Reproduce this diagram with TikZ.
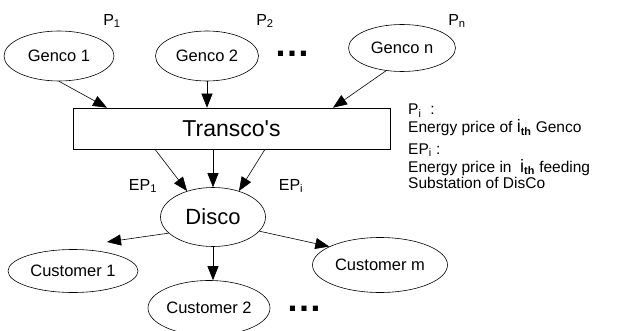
\documentclass[tikz,border=0pt]{standalone}
\usepackage{fontspec}
\setmainfont{Liberation Sans}
\usetikzlibrary{arrows.meta,shapes.geometric,calc}
\begin{document}
\begin{tikzpicture}[x=1pt,y=-1pt,
  oval/.style={draw, ellipse, line width=0.6pt, inner sep=0pt, font=\fontsize{16.5}{16.5}\selectfont},
  arr/.style={-{Triangle[length=14pt,width=11pt]}, line width=0.6pt},
  lbl/.style={font=\fontsize{16}{16}\selectfont, inner sep=0pt},
  note/.style={font=\fontsize{15.5}{15.5}\selectfont, inner sep=0pt, anchor=base west},
  dotsnode/.style={font=\fontsize{36}{36}\selectfont\bfseries, inner sep=0pt}]
\useasboundingbox (0,0) rectangle (617,331);
\clip (0,0) rectangle (617,331);
% nodes
\node[oval, minimum width=110pt, minimum height=50pt] (g1) at (59,56) {Genco 1};
\node[oval, minimum width=103pt, minimum height=50pt] (g2) at (207,56) {Genco 2};
\node[oval, minimum width=107pt, minimum height=47pt] (gn) at (402,48) {Genco n};
\node[draw, rectangle, line width=0.6pt, inner sep=0pt, minimum width=317pt, minimum height=41pt,
      font=\fontsize{23}{23}\selectfont] (t) at (231.5,128.5) {Transco\textquotesingle s};
\node[oval, minimum width=105pt, minimum height=59pt, font=\fontsize{22}{22}\selectfont] (d) at (213,217) {Disco};
\node[oval, minimum width=130pt, minimum height=43pt] (c1) at (73,271) {Customer 1};
\node[oval, minimum width=122pt, minimum height=55pt] (c2) at (209,308) {Customer 2};
\node[oval, minimum width=135pt, minimum height=55pt] (cm) at (380,265) {Customer m};
% labels
\node[lbl] (p1) at (112,21) {P\textsubscript{1}};
\node[lbl] (p2) at (265,21) {P\textsubscript{2}};
\node[lbl] (pn) at (457,21) {P\textsubscript{n}};
\node[lbl] (ep1) at (143,186) {EP\textsubscript{1}};
\node[lbl] (epi) at (291,186) {EP\textsubscript{i}};
\node[dotsnode] (dg) at (292,54) {…};
\node[dotsnode] (dc) at (304,309) {…};
% notes
\node[note] (n1) at (408,115) {P\textsubscript{i}\hspace{9pt}:};
\node[note] (n2) at (408,133) {Energy price of {\fontsize{18}{18}\selectfont i}\textsubscript{\textbf{th}} Genco};
\node[note] (n3) at (408,154) {EP\textsubscript{i} :};
\node[note] (n4) at (408,172) {Energy price in \ {\fontsize{18}{18}\selectfont i}\textsubscript{\textbf{th}} feeding};
\node[note] (n5) at (408,188) {Substation of DisCo};
% arrows
\draw[arr] (g1.south) -- ([xshift=-124.5pt]t.north);
\draw[arr] (g2.south) -- (g2.south |- t.north);
\draw[arr] (gn.235) -- ([xshift=101.5pt]t.north);
\draw[arr] ([xshift=-76.5pt]t.south) -- (d.135);
\draw[arr] (d.north |- t.south) -- (d.north);
\draw[arr] ([xshift=33.5pt]t.south) -- (d.45);
\draw[arr] (d.200) -- ([shift={(34,-29)}]c1.center);
\draw[arr] (d.south) -- (d.south |- c2.north);
\draw[arr] (d.343) -- (cm.160);
\end{tikzpicture}
\end{document}
